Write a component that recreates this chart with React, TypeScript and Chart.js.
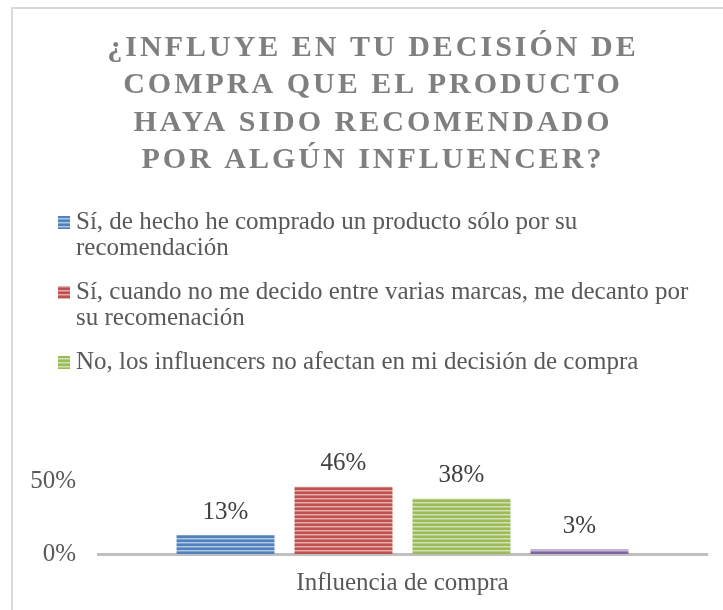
import React, { useEffect, useRef } from "react";
import { Chart, registerables } from "chart.js";

Chart.register(...registerables);

const TITLE_LINES = [
  "¿INFLUYE EN TU DECISIÓN DE",
  "COMPRA QUE EL PRODUCTO",
  "HAYA SIDO RECOMENDADO",
  "POR ALGÚN INFLUENCER?",
];
const CATEGORIES = ["Influencia de compra"];
const SERIES_NAMES = [
  "Sí, de hecho he comprado un producto sólo por su recomendación",
  "Sí, cuando no me decido entre varias marcas, me decanto por su recomenación",
  "No, los influencers no afectan en mi decisión de compra",
  "",
];
const SERIES_VALUES = [0.13, 0.46, 0.38, 0.03];
const SERIES_COLORS = ["#4f81bd", "#c0504d", "#9bbb59", "#8064a2"];
const Y_MIN = 0;
const Y_MAX = 0.5;
const Y_STEP = 0.5;

const FONT = "'Liberation Serif', 'DejaVu Serif', serif";

function mix(hex: string, t: number): string {
  const n = parseInt(hex.slice(1), 16);
  const r = (n >> 16) & 255, g = (n >> 8) & 255, b = n & 255;
  const m = (c: number) => Math.round(c + (255 - c) * t);
  return `rgb(${m(r)},${m(g)},${m(b)})`;
}

function makePattern(ctx: CanvasRenderingContext2D, color: string): CanvasPattern | string {
  const c = document.createElement("canvas");
  c.width = 4;
  c.height = 4;
  const p = c.getContext("2d");
  if (!p) return color;
  p.fillStyle = color;
  p.fillRect(0, 0, 4, 4);
  p.fillStyle = mix(color, 0.55);
  p.fillRect(0, 2, 4, 1);
  p.fillStyle = mix(color, 0.25);
  p.fillRect(0, 3, 4, 1);
  return ctx.createPattern(c, "repeat") || color;
}

function wrap(ctx: CanvasRenderingContext2D, text: string, maxW: number): string[] {
  const words = text.split(" ");
  const lines: string[] = [];
  let cur = "";
  for (const w of words) {
    const t = cur ? cur + " " + w : w;
    if (ctx.measureText(t).width > maxW && cur) {
      lines.push(cur);
      cur = w;
    } else cur = t;
  }
  if (cur) lines.push(cur);
  return lines;
}

export default function App() {
  const ref = useRef<HTMLCanvasElement | null>(null);

  useEffect(() => {
    document.body.style.margin = "0";
    const canvas = ref.current;
    if (!canvas) return;
    const ctx0 = canvas.getContext("2d")!;
    const patterns = SERIES_COLORS.map((c) => makePattern(ctx0, c));

    const decor = {
      id: "decor",
      beforeDraw(chart: any) {
        const ctx: CanvasRenderingContext2D = chart.ctx;
        ctx.save();
        ctx.fillStyle = "#ffffff";
        ctx.fillRect(0, 0, chart.width, chart.height);
        ctx.strokeStyle = "#d9d9d9";
        ctx.lineWidth = 2;
        ctx.strokeRect(12, 8, 800, 800);

        // title
        ctx.font = `bold 30px ${FONT}`;
        (ctx as any).letterSpacing = "3px";
        ctx.fillStyle = "#7f7f7f";
        ctx.textAlign = "center";
        ctx.textBaseline = "middle";
        TITLE_LINES.forEach((t, i) => ctx.fillText(t, 373, 48 + i * 37.5));
        (ctx as any).letterSpacing = "0px";

        // legend
        ctx.font = `25px ${FONT}`;
        ctx.textAlign = "left";
        let y = 222;
        SERIES_NAMES.forEach((name, i) => {
          if (!name) return;
          const lines = wrap(ctx, name, 630);
          ctx.fillStyle = patterns[i] as any;
          ctx.fillRect(58, y - 6, 12, 13);
          ctx.fillStyle = "#595959";
          lines.forEach((l, j) => ctx.fillText(l, 76, y + j * 26));
          y += (lines.length - 1) * 26 + 44;
        });
        ctx.restore();
      },
      afterDatasetsDraw(chart: any) {
        const ctx: CanvasRenderingContext2D = chart.ctx;
        ctx.save();
        ctx.font = `25px ${FONT}`;
        ctx.fillStyle = "#404040";
        ctx.textAlign = "center";
        ctx.textBaseline = "middle";
        chart.data.datasets.forEach((ds: any, i: number) => {
          const meta = chart.getDatasetMeta(i);
          meta.data.forEach((el: any, j: number) => {
            const v = ds.data[j];
            ctx.fillText(Math.round(v * 100) + "%", el.x, el.y - 23);
          });
        });
        ctx.restore();
      },
    };

    const chart = new Chart(canvas, {
      type: "bar",
      data: {
        labels: CATEGORIES,
        datasets: SERIES_VALUES.map((v, i) => ({
          label: SERIES_NAMES[i],
          data: [v],
          backgroundColor: patterns[i] as any,
          borderWidth: 0,
          categoryPercentage: 0.775,
          barPercentage: 0.83,
        })),
      },
      options: {
        responsive: false,
        animation: false,
        devicePixelRatio: 1,
        layout: { padding: { top: 481, right: 16, left: 0, bottom: 0 } },
        plugins: {
          legend: { display: false },
          title: { display: false },
          tooltip: { enabled: false },
        },
        scales: {
          x: {
            grid: { display: false, drawTicks: false },
            border: { display: true, color: "#bfbfbf", width: 3 },
            ticks: { font: { family: FONT, size: 25 }, color: "#595959", padding: 14 },
            afterFit(s: any) {
              s.height = 56;
            },
          },
          y: {
            min: Y_MIN,
            max: Y_MAX,
            grid: { display: false, drawTicks: false },
            border: { display: false },
            ticks: {
              stepSize: Y_STEP,
              font: { family: FONT, size: 25 },
              color: "#595959",
              padding: 22,
              callback: (v: any) => Math.round(Number(v) * 100) + "%",
            },
            afterFit(s: any) {
              s.width = 98;
            },
          },
        },
      },
      plugins: [decor],
    });
    return () => chart.destroy();
  }, []);

  return (
    <div style={{ width: 723, height: 610 }}>
      <canvas ref={ref} width={723} height={610} style={{ display: "block" }} />
    </div>
  );
}
